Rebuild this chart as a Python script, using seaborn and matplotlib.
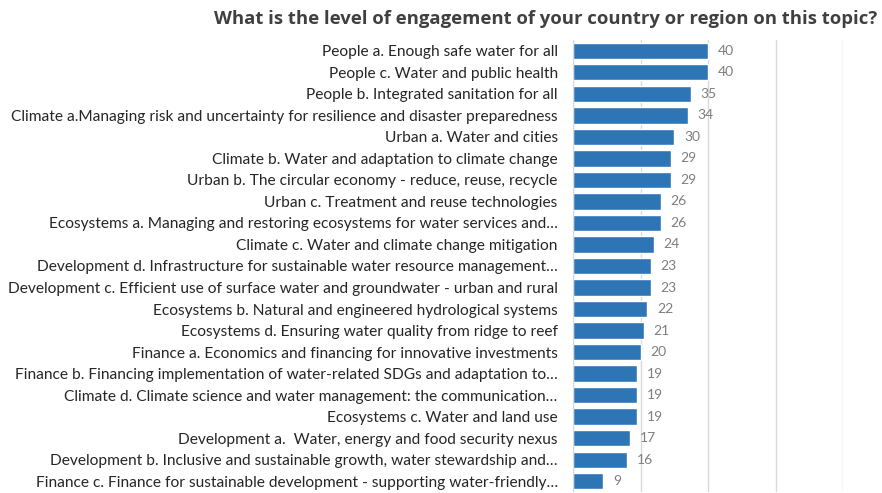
import matplotlib
matplotlib.use('Agg')
import matplotlib.pyplot as plt
import seaborn as sns
import pandas as pd
import numpy as np

topics = [
    'People a. Enough safe water for all',
    'People c. Water and public health',
    'People b. Integrated sanitation for all',
    'Climate a.Managing risk and uncertainty for resilience and disaster preparedness',
    'Urban a. Water and cities',
    'Climate b. Water and adaptation to climate change',
    'Urban b. The circular economy - reduce, reuse, recycle',
    'Urban c. Treatment and reuse technologies',
    'Ecosystems a. Managing and restoring ecosystems for water services and\u2026',
    'Climate c. Water and climate change mitigation',
    'Development d. Infrastructure for sustainable water resource management\u2026',
    'Development c. Efficient use of surface water and groundwater - urban and rural',
    'Ecosystems b. Natural and engineered hydrological systems',
    'Ecosystems d. Ensuring water quality from ridge to reef',
    'Finance a. Economics and financing for innovative investments',
    'Finance b. Financing implementation of water-related SDGs and adaptation to\u2026',
    'Climate d. Climate science and water management: the communication\u2026',
    'Ecosystems c. Water and land use',
    'Development a.  Water, energy and food security nexus',
    'Development b. Inclusive and sustainable growth, water stewardship and\u2026',
    'Finance c. Finance for sustainable development - supporting water-friendly\u2026',
]
counts = [40, 40, 35, 34, 30, 29, 29, 26, 26, 24, 23, 23, 22, 21, 20, 19, 19, 19, 17, 16, 9]

df = pd.DataFrame({'topic': topics, 'count': counts})

sns.set_style('white')
plt.rcParams['font.family'] = ['Lato', 'DejaVu Sans']

fig = plt.figure(figsize=(8.82, 4.93), dpi=100)
ax = fig.add_axes([573 / 882, 1 / 493, (843 - 573) / 882, (492 - 40) / 493])

sns.barplot(data=df, x='count', y='topic', order=topics, color='#2E75B6',
            saturation=1, width=0.76, ax=ax)

ax.set_xlim(0, 80)
ax.set_ylim(len(topics) - 0.5, -0.5)
ax.set_xticks([0, 20, 40, 60, 80])
ax.xaxis.grid(True, color='#d9d9d9', linewidth=1)
ax.set_axisbelow(True)
ax.tick_params(axis='x', bottom=False, labelbottom=False)
ax.tick_params(axis='y', which='major', length=0, pad=11, labelsize=11.2, labelcolor='#262626')
ax.set_yticks(np.arange(-0.5, len(topics)), minor=True)
ax.tick_params(axis='y', which='minor', length=4, color='#d9d9d9', width=1)
for side in ['top', 'right', 'bottom']:
    ax.spines[side].set_visible(False)
ax.spines['left'].set_color('#d9d9d9')
ax.set_xlabel('')
ax.set_ylabel('')

# value labels next to the bars
for i, v in enumerate(counts):
    ax.annotate(str(v), (v, i), xytext=(7, 0), textcoords='offset points',
                va='center', ha='left', fontsize=10, color='#7f7f7f')

fig.text(877 / 882, 1 - 19 / 493, 'What is the level of engagement of your country or region on this topic?',
         ha='right', va='center', fontsize=13.3, fontweight='bold', color='#404040',
         family=['Open Sans', 'DejaVu Sans'])

fig.savefig('out.png', dpi=100)
